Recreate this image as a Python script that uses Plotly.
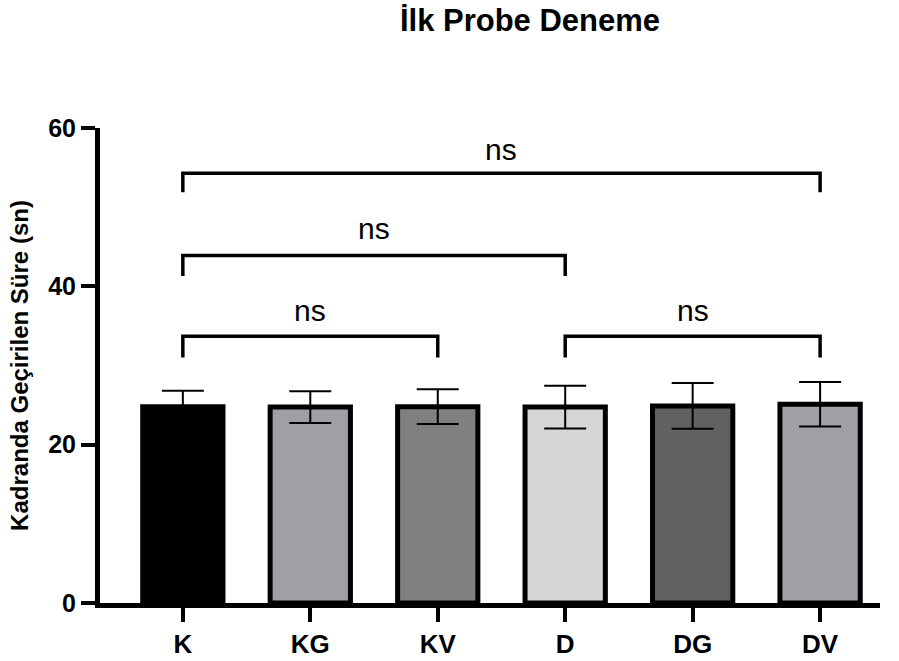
import plotly.graph_objects as go

categories = ["K", "KG", "KV", "D", "DG", "DV"]
means = [24.8, 24.75, 24.8, 24.75, 24.9, 25.1]
sem = [2.0, 2.0, 2.2, 2.7, 2.9, 2.8]
colors = ["#000000", "#a19fa5", "#808080", "#d6d6d6", "#616161", "#a19fa5"]

# significance comparisons: (left index, right index, bracket height, tip bottom, label height)
comp_left = [0, 3, 0, 0]
comp_right = [2, 5, 3, 5]
comp_bar_y = [33.7, 33.7, 43.9, 54.3]
comp_tip_y = [31.0, 31.0, 41.3, 51.9]
comp_label_y = [37.0, 37.0, 47.3, 57.3]
comp_labels = ["ns", "ns", "ns", "ns"]

FONT = "Liberation Sans, Arial, sans-serif"

fig = go.Figure()
fig.add_trace(go.Bar(
    x=list(range(len(categories))),
    y=means,
    width=0.63,
    marker=dict(color=colors, line=dict(color="black", width=5)),
    error_y=dict(type="data", array=sem, visible=True, color="black", thickness=2, width=21),
    showlegend=False,
    hoverinfo="skip",
))

for l, r, yb, yt, yl, lab in zip(comp_left, comp_right, comp_bar_y, comp_tip_y, comp_label_y, comp_labels):
    fig.add_shape(type="path", xref="x", yref="y",
                  path=f"M {l} {yt} L {l} {yb} L {r} {yb} L {r} {yt}",
                  line=dict(color="black", width=3.5))
    fig.add_annotation(x=(l + r) / 2, y=yl, xref="x", yref="y", text=lab,
                       showarrow=False, font=dict(family=FONT, size=30, color="black"),
                       yanchor="middle")

fig.update_layout(
    width=899, height=661,
    margin=dict(l=100, r=19, t=128, b=58),
    plot_bgcolor="white", paper_bgcolor="white",
    title=dict(text="<b>İlk Probe Deneme</b>", x=530/899, xanchor="center",
               y=1 - 20/661, yanchor="middle",
               font=dict(family=FONT, size=31, color="black")),
    xaxis=dict(
        range=[-0.65, 5.47], automargin=False,
        tickmode="array", tickvals=list(range(len(categories))),
        ticktext=[f"<b>{c}</b>" for c in categories],
        showline=True, linecolor="black", linewidth=5,
        ticks="outside", ticklen=14, tickwidth=4, tickcolor="black",
        tickfont=dict(family=FONT, size=26, color="black"),
        showgrid=False, zeroline=False, fixedrange=True,
    ),
    yaxis=dict(
        range=[0, 60], automargin=False,
        tickmode="array", tickvals=[0, 20, 40, 60],
        ticktext=["<b>0</b>", "<b>20</b>", "<b>40</b>", "<b>60</b>"],
        showline=True, linecolor="black", linewidth=5,
        ticks="outside", ticklen=14, tickwidth=4, tickcolor="black",
        tickfont=dict(family=FONT, size=25, color="black"),
        title=dict(text="<b>Kadranda Geçirilen Süre (sn)</b>", standoff=14,
                   font=dict(family=FONT, size=24, color="black")),
        showgrid=False, zeroline=False, fixedrange=True,
    ),
)

fig.write_html("out.html")
